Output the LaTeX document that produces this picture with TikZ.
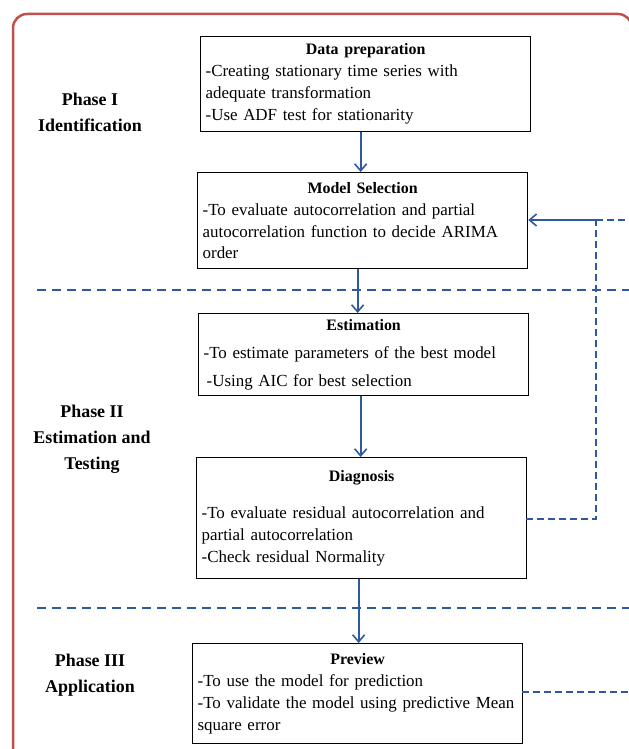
\documentclass[tikz,border=0pt]{standalone}
\usepackage{fontspec}
\setmainfont{Liberation Serif}
\usetikzlibrary{arrows.meta}
\definecolor{frameRed}{RGB}{192,80,77}
\definecolor{lineBlue}{RGB}{46,89,160}
\begin{document}
\begin{tikzpicture}[x=1bp,y=-1bp,
  box/.style={draw=black, line width=1.3bp, rectangle, anchor=north west,
    inner xsep=5bp, inner ysep=0bp, text width=320bp,
    font=\fontsize{17}{22}\selectfont},
  arr/.style={draw=lineBlue, line width=1.8bp,
    -{Straight Barb[length=7bp,width=12bp,line width=1.6bp]}},
  bluedash/.style={draw=lineBlue, line width=1.7bp, dash pattern=on 9bp off 6bp},
  fbdash/.style={draw=lineBlue, line width=1.7bp, dash pattern=on 7bp off 4bp},
  phase/.style={font=\fontsize{18}{26}\selectfont\bfseries, align=center}
]
\useasboundingbox (0,0) rectangle (629,749);
\draw[frameRed, line width=2.5bp, rounded corners=14bp] (13,14) rectangle (632,775);

% phase labels
\node[phase] (p1) at (90,112) {Phase I\\Identification};
\node[phase] (p2) at (92,439) {Phase II\\Estimation and\\Testing};
\node[phase] (p3) at (90,675) {Phase III\\Application};

% boxes
\node[box, minimum height=95bp] (b1) at (200,36) {%
  {\centering\fontsize{16}{22}\selectfont\bfseries Data preparation\par}\raggedright
  -Creating stationary time series with\\
  adequate transformation\\
  -Use ADF test for stationarity};
\node[box, minimum height=96bp] (b2) at (197,172) {%
  {\centering\fontsize{16}{22}\selectfont\bfseries Model Selection\par}\raggedright
  -To evaluate autocorrelation and partial\\
  autocorrelation function to decide ARIMA\\
  order};
\node[box, minimum height=82bp, font=\fontsize{17}{28}\selectfont] (b3) at (198,313) {%
  {\centering\fontsize{16}{28}\selectfont\bfseries Estimation\par}\raggedright
  -To estimate parameters of the best model\\
  \hspace*{3bp}-Using AIC for best selection};
\node[box, minimum height=121bp] (b4) at (196,457) {%
  {\centering\fontsize{16}{22}\selectfont\bfseries Diagnosis\par}\vspace{15bp}\raggedright
  -To evaluate residual autocorrelation and\\
  partial autocorrelation\\
  -Check residual Normality};
\node[box, minimum height=100bp] (b5) at (192,643) {%
  {\centering\fontsize{16}{22}\selectfont\bfseries Preview\par}\raggedright
  -To use the model for prediction\\
  -To validate the model using predictive Mean\\
  square error};

% phase separators
\coordinate (s1l) at (37,290);
\coordinate (s1r) at (629,290);
\coordinate (s2l) at (37,608);
\coordinate (s2r) at (629,608);
\draw[bluedash] (s1l) -- (s1r);
\draw[bluedash] (s2l) -- (s2r);

% main flow
\draw[arr] ([xshift=-5bp]b1.south) -- ([xshift=-5bp]b1.south |- b2.north);
\draw[arr] ([xshift=-5bp]b2.south) -- ([xshift=-5bp]b2.south |- b3.north);
\draw[arr] ([xshift=-3bp]b3.south) -- ([xshift=-3bp]b3.south |- b4.north);
\draw[arr] ([xshift=-3bp]b4.south) -- ([xshift=-3bp]b4.south |- b5.north);

% feedback loop
\coordinate (fb) at (596,220);
\coordinate (fbo) at (629,220);
\coordinate (d4) at (526,519);
\coordinate (d5) at (522,692);
\coordinate (d5r) at (629,692);
\draw[fbdash] (d4) -| (fb);
\draw[arr] (fb) -- (b2.east |- fb);
\draw[fbdash] (fb) -- (fbo);
\draw[fbdash] (d5) -- (d5r);
\end{tikzpicture}
\end{document}
